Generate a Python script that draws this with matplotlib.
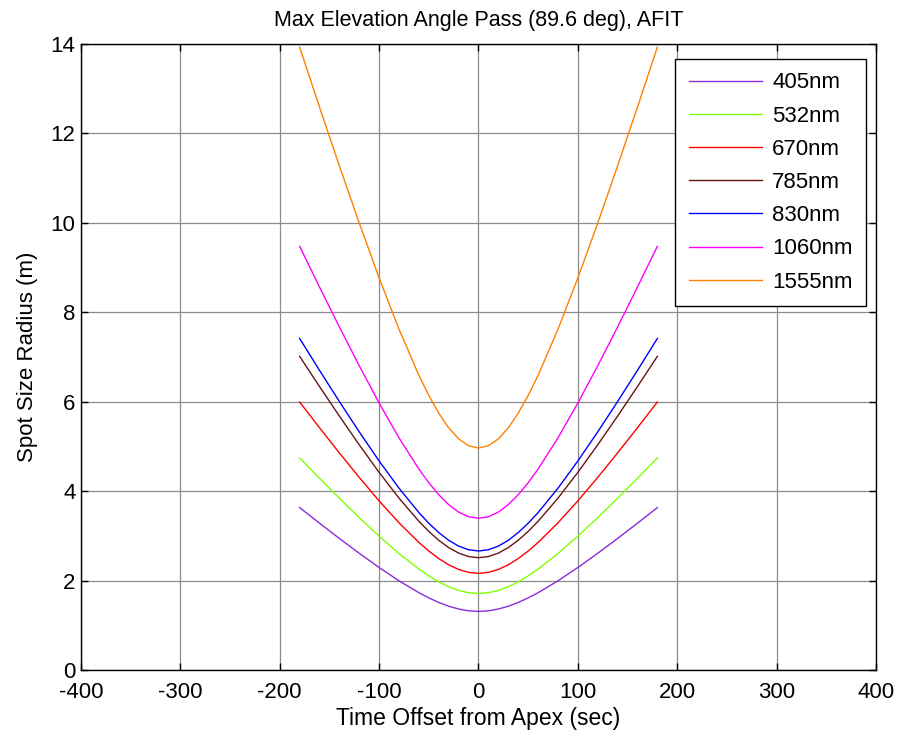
import matplotlib
matplotlib.use("Agg")
import matplotlib.pyplot as plt

t_sec = [-180, -160, -140, -120, -100, -80, -60, -50, -40, -30, -20, -10, 0,
         10, 20, 30, 40, 50, 60, 80, 100, 120, 140, 160, 180]

def sym(half):
    # half: values read at t = 0, 10, 20, 30, 40, 50, 60, 80, ..., 180 (curves are symmetric)
    return half[:0:-1] + half

r405 = sym([1.32, 1.333, 1.373, 1.436, 1.520, 1.622, 1.738, 2.004, 2.301, 2.619, 2.950, 3.292, 3.64])
r532 = sym([1.72, 1.737, 1.789, 1.871, 1.981, 2.114, 2.266, 2.613, 3.001, 3.416, 3.849, 4.295, 4.75])
r670 = sym([2.17, 2.192, 2.257, 2.362, 2.501, 2.669, 2.861, 3.300, 3.790, 4.315, 4.862, 5.425, 6.00])
r785 = sym([2.52, 2.546, 2.623, 2.746, 2.910, 3.108, 3.335, 3.851, 4.427, 5.043, 5.685, 6.346, 7.02])
r830 = sym([2.67, 2.698, 2.779, 2.909, 3.082, 3.290, 3.529, 4.074, 4.682, 5.332, 6.010, 6.708, 7.42])
r1060 = sym([3.40, 3.435, 3.539, 3.706, 3.928, 4.195, 4.501, 5.199, 5.977, 6.809, 7.677, 8.569, 9.48])
r1555 = sym([4.97, 5.022, 5.176, 5.422, 5.750, 6.146, 6.597, 7.626, 8.773, 9.998, 11.276, 12.590, 13.93])

labels = ["405nm", "532nm", "670nm", "785nm", "830nm", "1060nm", "1555nm"]
series = [r405, r532, r670, r785, r830, r1060, r1555]
colors = ["#8B2BD9", "#80FF00", "#FF0000", "#661414", "#0000FF", "#FF00FF", "#FF8000"]

xticks = [-400, -300, -200, -100, 0, 100, 200, 300, 400]
yticks = [0, 2, 4, 6, 8, 10, 12, 14]

plt.rcParams['font.family'] = ['Liberation Sans', 'DejaVu Sans']
plt.rcParams['axes.unicode_minus'] = False

fig = plt.figure(figsize=(8.99, 7.38), dpi=100)
ax = fig.add_axes([0.0901, 0.0915, 0.8843, 0.8489])

for y, c, lab in zip(series, colors, labels):
    ax.plot(t_sec, y, color=c, lw=1.0, label=lab)

ax.set_xlim(-400, 400)
ax.set_ylim(0, 14)
ax.set_xticks(xticks)
ax.set_yticks(yticks)
ax.tick_params(direction='in', top=True, right=True, length=5, width=1,
               labelsize=16)
ax.tick_params(axis='x', pad=8)
ax.tick_params(axis='y', pad=4)
ax.grid(True, color='#8c8c8c', lw=0.9)
ax.set_axisbelow(True)
for s in ax.spines.values():
    s.set_linewidth(1.0)

ax.set_title("Max Elevation Angle Pass (89.6 deg), AFIT", fontsize=15.5, pad=13)
ax.set_xlabel("Time Offset from Apex (sec)", fontsize=16.5, labelpad=3)
ax.set_ylabel("Spot Size Radius (m)", fontsize=16, labelpad=9)

leg = ax.legend(loc='upper right', bbox_to_anchor=(0.9874, 0.976), fontsize=16,
                frameon=True, fancybox=False, edgecolor='black', framealpha=1,
                handlelength=3.3, handletextpad=0.45, labelspacing=0.55,
                borderpad=0.6, borderaxespad=0)
leg.get_frame().set_linewidth(1.0)

fig.savefig("out.png", dpi=100)
